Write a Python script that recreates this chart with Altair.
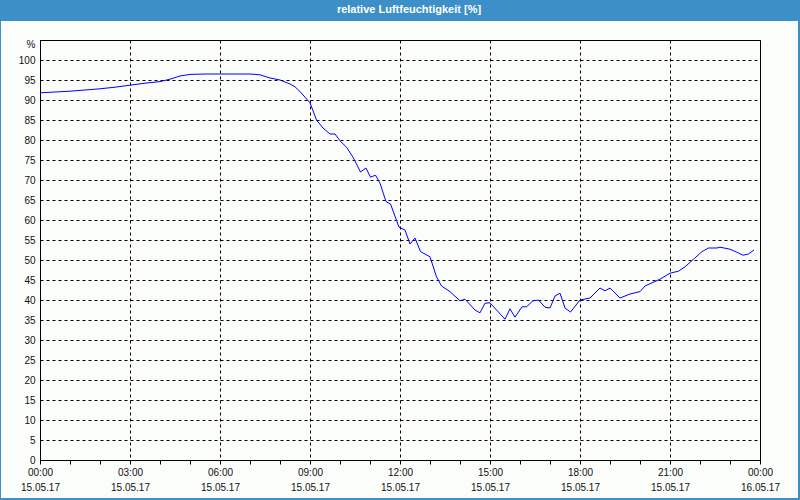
import altair as alt
import pandas as pd

# ---- data ----
times = ["00:00", "00:30", "01:00", "01:30", "02:00", "02:30", "03:00", "03:30",
         "04:00", "04:20", "04:40", "05:00", "05:30", "06:00", "06:30", "07:00",
         "07:20", "07:40", "08:00", "08:20", "08:30", "08:40", "09:00", "09:13",
         "09:26", "09:40", "09:50", "10:00", "10:13", "10:26", "10:41", "10:52",
         "11:01", "11:11", "11:20", "11:32", "11:41", "11:58", "12:10", "12:20",
         "12:30", "12:41", "13:00", "13:13", "13:23", "13:40", "14:00", "14:10",
         "14:30", "14:40", "14:50", "15:00", "15:13", "15:30", "15:40", "15:50",
         "16:04", "16:13", "16:26", "16:37", "16:50", "17:00", "17:10", "17:20",
         "17:30", "17:41", "18:00", "18:20", "18:40", "18:50", "19:00", "19:20",
         "19:40", "20:00", "20:10", "20:40", "21:00", "21:17", "21:30", "21:47",
         "22:04", "22:17", "22:34", "22:40", "23:00", "23:13", "23:26", "23:37",
         "23:48"]
humidity = [91.8, 92.0, 92.2, 92.5, 92.8, 93.2, 93.7, 94.2,
            94.6, 95.2, 96.0, 96.4, 96.5, 96.5, 96.5, 96.5,
            96.3, 95.5, 95.0, 94.0, 93.3, 92.1, 89.3, 85.0,
            83.0, 81.5, 81.5, 79.8, 78.2, 75.7, 72.0, 73.0,
            70.7, 71.2, 69.2, 64.6, 64.0, 58.2, 57.5, 54.0,
            55.5, 52.1, 50.8, 45.8, 43.5, 42.1, 39.8, 40.2,
            37.5, 36.8, 39.2, 39.3, 37.5, 35.2, 37.8, 35.7,
            38.3, 38.3, 39.8, 40.0, 38.2, 38.0, 41.0, 41.7,
            38.0, 37.0, 40.0, 40.5, 43.0, 42.3, 43.0, 40.5,
            41.5, 42.1, 43.5, 45.2, 46.7, 47.2, 48.3, 50.2,
            52.1, 53.0, 53.0, 53.2, 52.7, 52.0, 51.2, 51.5,
            52.5]
x_tick_hours = list(range(0, 25))
y_tick_values = list(range(0, 101, 5))
title_text = "relative Luftfeuchtigkeit [%]"

hours = [int(t[:2]) + int(t[3:]) / 60 for t in times]
df = pd.DataFrame({"hour": hours, "rh": humidity})

FONT = "Liberation Sans"
BLUE = "#3c90c7"

label_expr = (
    "datum.value % 3 !== 0 ? '' : "
    "(datum.value === 24 ? ['00:00', '16.05.17'] : "
    "[(datum.value < 10 ? '0' : '') + datum.value + ':00', '15.05.17'])"
)

line = alt.Chart(df).mark_line(color="#0000ff", strokeWidth=1).encode(
    x=alt.X("hour:Q",
            scale=alt.Scale(domain=[0, 24], nice=False, zero=False),
            axis=alt.Axis(values=x_tick_hours, title=None,
                          labelExpr=label_expr, labelLineHeight=15,
                          labelOverlap=False, labelFlush=False,
                          labelPadding=3, labelFont=FONT, labelFontSize=10,
                          labelColor="#111111",
                          tickSize=4, tickColor="black", domainColor="black",
                          grid=True, gridColor="black", gridDash=[3, 3],
                          gridOpacity={"condition": {"test": "datum.value % 3 === 0", "value": 1},
                                       "value": 0})),
    y=alt.Y("rh:Q",
            scale=alt.Scale(domain=[0, 105], nice=False),
            axis=alt.Axis(values=y_tick_values, title="%", titleAngle=0,
                          titleX=-5, titleY=4, titleAlign="right",
                          titleBaseline="middle", titleFont=FONT,
                          titleFontSize=10, titleFontWeight="normal",
                          titleColor="#111111",
                          ticks=False, labelPadding=5, labelFont=FONT,
                          labelFontSize=10, labelColor="#111111",
                          domainColor="black",
                          grid=True, gridColor="black", gridDash=[3, 3])),
)

one = pd.DataFrame({"a": [0]})

title_bar = alt.Chart(one).mark_rect(color=BLUE).encode(
    x=alt.value(-40), x2=alt.value(760), y=alt.value(-40), y2=alt.value(-19)
)
title_txt = alt.Chart(one).mark_text(
    text=title_text, color="white", font=FONT, fontSize=11, fontWeight="bold",
    align="center", baseline="middle"
).encode(x=alt.value(369), y=alt.value(-30))

left_border = alt.Chart(one).mark_rule(color=BLUE, strokeWidth=1).encode(
    x=alt.value(-39.5), y=alt.value(-40), y2=alt.value(460))
right_border = alt.Chart(one).mark_rule(color=BLUE, strokeWidth=2).encode(
    x=alt.value(759), y=alt.value(-40), y2=alt.value(460))
bottom_border = alt.Chart(one).mark_rule(color=BLUE, strokeWidth=2).encode(
    x=alt.value(-40), x2=alt.value(760), y=alt.value(459))

chart = alt.layer(
    line, title_bar, title_txt, left_border, right_border, bottom_border
).properties(
    width=720, height=420,
    autosize=alt.AutoSizeParams(type="none"),
    padding={"left": 40, "top": 40, "right": 40, "bottom": 40},
    background="#fbfdfb",
).configure_view(stroke="black", strokeWidth=1)

chart.save("out.html", embed_options={"renderer": "svg", "actions": False})
